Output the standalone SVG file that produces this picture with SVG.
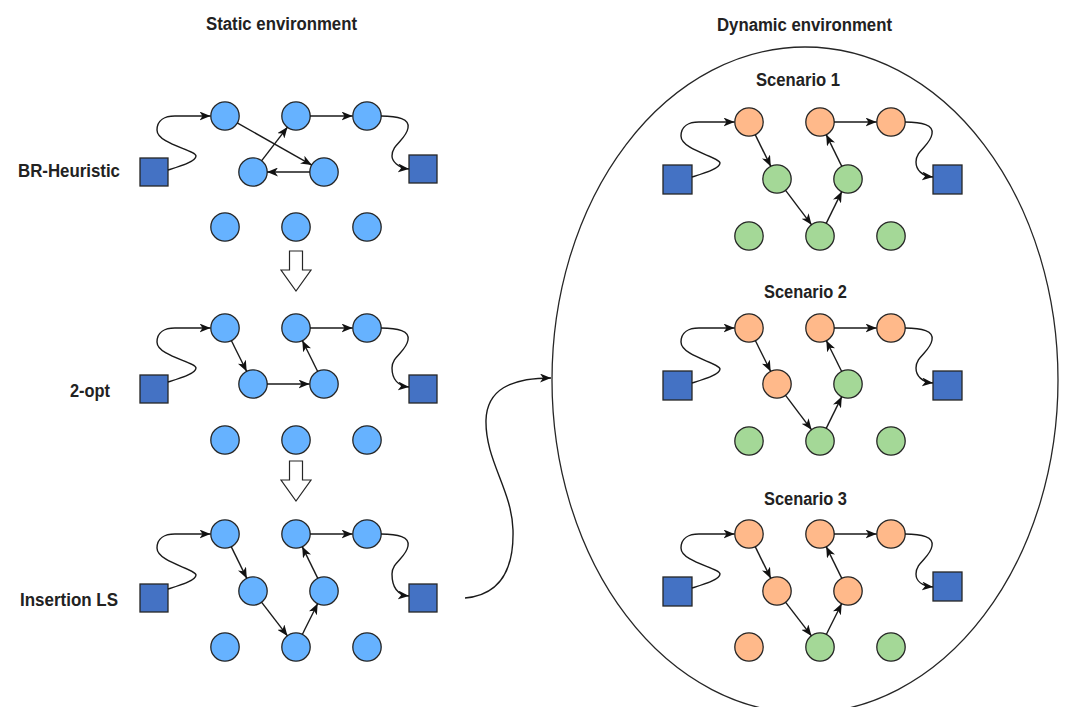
<svg xmlns="http://www.w3.org/2000/svg" width="1065" height="707" viewBox="0 0 1065 707">
<defs>
<style>
.c{stroke:#262626;stroke-width:1.3}
.blue{fill:#66B2FF}
.or{fill:#FFB98A}
.gr{fill:#A4D897}
.sq{fill:#4472C4;stroke:#262626;stroke-width:1.3}
.e{fill:none;stroke:#1a1a1a;stroke-width:1.4;marker-end:url(#ah)}
.lbl{font-family:"Liberation Sans",Arial,Helvetica,sans-serif;font-size:18px;font-weight:bold;fill:#222222}
.blk{fill:#ffffff;stroke:#262626;stroke-width:1.2}
</style>
<marker id="ah" markerUnits="userSpaceOnUse" markerWidth="11" markerHeight="9" refX="11" refY="4.5" orient="auto">
<path d="M0,0 L11,4.5 L0,9 L3,4.5 z" fill="#111"/>
</marker>
</defs>
<rect width="1065" height="707" fill="#ffffff"/>

<g id="labels">
<text class="lbl" x="206" y="30" textLength="151" lengthAdjust="spacingAndGlyphs">Static environment</text>
<text class="lbl" x="717" y="31" textLength="175" lengthAdjust="spacingAndGlyphs">Dynamic environment</text>
<text class="lbl" x="18" y="177" textLength="102" lengthAdjust="spacingAndGlyphs">BR-Heuristic</text>
<text class="lbl" x="70" y="397" textLength="40" lengthAdjust="spacingAndGlyphs">2-opt</text>
<text class="lbl" x="20" y="606" textLength="98" lengthAdjust="spacingAndGlyphs">Insertion LS</text>
<text class="lbl" x="756" y="86" textLength="84" lengthAdjust="spacingAndGlyphs">Scenario 1</text>
<text class="lbl" x="764" y="298" textLength="83" lengthAdjust="spacingAndGlyphs">Scenario 2</text>
<text class="lbl" x="764" y="505" textLength="83" lengthAdjust="spacingAndGlyphs">Scenario 3</text>
</g>

<g id="dynamic-container"><ellipse cx="805" cy="380" rx="253" ry="333" fill="none" stroke="#262626" stroke-width="1.3"/></g>

<g id="step-arrow-1"><polygon class="blk" points="289.5,251 302.5,251 302.5,270 311,270 296,291 281,270 289.5,270"/></g>
<g id="step-arrow-2"><polygon class="blk" points="289.5,461 302.5,461 302.5,480 311,480 296,501 281,480 289.5,480"/></g>

<!-- Static panel 1 -->
<g id="s1-start"><rect class="sq" x="140" y="158" width="28" height="28"/></g>
<g id="s1-end"><rect class="sq" x="409" y="155" width="28" height="28"/></g>
<g id="s1-a1"><circle class="c blue" cx="225" cy="116" r="14.2"/></g>
<g id="s1-a2"><circle class="c blue" cx="296" cy="116" r="14.2"/></g>
<g id="s1-a3"><circle class="c blue" cx="367" cy="116" r="14.2"/></g>
<g id="s1-b1"><circle class="c blue" cx="253" cy="172" r="14.2"/></g>
<g id="s1-b2"><circle class="c blue" cx="324" cy="172" r="14.2"/></g>
<g id="s1-c1"><circle class="c blue" cx="225" cy="227" r="14.2"/></g>
<g id="s1-c2"><circle class="c blue" cx="296" cy="227" r="14.2"/></g>
<g id="s1-c3"><circle class="c blue" cx="367" cy="227" r="14.2"/></g>

<!-- Static panel 2 -->
<g id="s2-start"><rect class="sq" x="140" y="375" width="28" height="28"/></g>
<g id="s2-end"><rect class="sq" x="409" y="375" width="28" height="28"/></g>
<g id="s2-a1"><circle class="c blue" cx="225" cy="328" r="14.2"/></g>
<g id="s2-a2"><circle class="c blue" cx="296" cy="328" r="14.2"/></g>
<g id="s2-a3"><circle class="c blue" cx="367" cy="328" r="14.2"/></g>
<g id="s2-b1"><circle class="c blue" cx="253" cy="384" r="14.2"/></g>
<g id="s2-b2"><circle class="c blue" cx="324" cy="384" r="14.2"/></g>
<g id="s2-c1"><circle class="c blue" cx="225" cy="440" r="14.2"/></g>
<g id="s2-c2"><circle class="c blue" cx="296" cy="440" r="14.2"/></g>
<g id="s2-c3"><circle class="c blue" cx="367" cy="440" r="14.2"/></g>

<!-- Static panel 3 -->
<g id="s3-start"><rect class="sq" x="140" y="584" width="28" height="28"/></g>
<g id="s3-end"><rect class="sq" x="409" y="584" width="28" height="28"/></g>
<g id="s3-a1"><circle class="c blue" cx="225" cy="534" r="14.2"/></g>
<g id="s3-a2"><circle class="c blue" cx="296" cy="534" r="14.2"/></g>
<g id="s3-a3"><circle class="c blue" cx="367" cy="534" r="14.2"/></g>
<g id="s3-b1"><circle class="c blue" cx="253" cy="591" r="14.2"/></g>
<g id="s3-b2"><circle class="c blue" cx="324" cy="591" r="14.2"/></g>
<g id="s3-c1"><circle class="c blue" cx="225" cy="647" r="14.2"/></g>
<g id="s3-c2"><circle class="c blue" cx="296" cy="647" r="14.2"/></g>
<g id="s3-c3"><circle class="c blue" cx="367" cy="647" r="14.2"/></g>

<!-- Scenario 1 -->
<g id="d1-start"><rect class="sq" x="663" y="165" width="29" height="29"/></g>
<g id="d1-end"><rect class="sq" x="933" y="165" width="29" height="29"/></g>
<g id="d1-a1"><circle class="c or" cx="749" cy="122" r="14.2"/></g>
<g id="d1-a2"><circle class="c or" cx="820" cy="122" r="14.2"/></g>
<g id="d1-a3"><circle class="c or" cx="891" cy="122" r="14.2"/></g>
<g id="d1-b1"><circle class="c gr" cx="777" cy="179" r="14.2"/></g>
<g id="d1-b2"><circle class="c gr" cx="848" cy="179" r="14.2"/></g>
<g id="d1-c1"><circle class="c gr" cx="749" cy="236" r="14.2"/></g>
<g id="d1-c2"><circle class="c gr" cx="820" cy="236" r="14.2"/></g>
<g id="d1-c3"><circle class="c gr" cx="891" cy="236" r="14.2"/></g>

<!-- Scenario 2 -->
<g id="d2-start"><rect class="sq" x="663" y="371" width="29" height="29"/></g>
<g id="d2-end"><rect class="sq" x="933" y="371" width="29" height="29"/></g>
<g id="d2-a1"><circle class="c or" cx="749" cy="328" r="14.2"/></g>
<g id="d2-a2"><circle class="c or" cx="820" cy="328" r="14.2"/></g>
<g id="d2-a3"><circle class="c or" cx="891" cy="328" r="14.2"/></g>
<g id="d2-b1"><circle class="c or" cx="777" cy="384" r="14.2"/></g>
<g id="d2-b2"><circle class="c gr" cx="848" cy="384" r="14.2"/></g>
<g id="d2-c1"><circle class="c gr" cx="749" cy="441" r="14.2"/></g>
<g id="d2-c2"><circle class="c gr" cx="820" cy="441" r="14.2"/></g>
<g id="d2-c3"><circle class="c gr" cx="891" cy="441" r="14.2"/></g>

<!-- Scenario 3 -->
<g id="d3-start"><rect class="sq" x="663" y="577" width="29" height="29"/></g>
<g id="d3-end"><rect class="sq" x="933" y="572" width="29" height="29"/></g>
<g id="d3-a1"><circle class="c or" cx="749" cy="534" r="14.2"/></g>
<g id="d3-a2"><circle class="c or" cx="820" cy="534" r="14.2"/></g>
<g id="d3-a3"><circle class="c or" cx="891" cy="534" r="14.2"/></g>
<g id="d3-b1"><circle class="c or" cx="777" cy="591" r="14.2"/></g>
<g id="d3-b2"><circle class="c or" cx="848" cy="591" r="14.2"/></g>
<g id="d3-c1"><circle class="c or" cx="749" cy="647" r="14.2"/></g>
<g id="d3-c2"><circle class="c gr" cx="820" cy="647" r="14.2"/></g>
<g id="d3-c3"><circle class="c gr" cx="891" cy="647" r="14.2"/></g>

<g id="connectors">
<!-- static panel 1 -->
<path class="e" d="M168,170 C178,167 196,162 196,156 C196,150 157,144 157,130 C157,120 165,116 175,116 L210.5,116"/>
<line class="e" x1="237.2" y1="122.9" x2="311.8" y2="165.1"/>
<line class="e" x1="310" y1="172" x2="267" y2="172"/>
<line class="e" x1="261.5" y1="160.9" x2="287.5" y2="127.1"/>
<line class="e" x1="310" y1="116" x2="352.5" y2="116"/>
<path class="e" d="M381,116 C398,116 410,119 408,128 C406,140 392,144 392,156 C392,161 398,168 409,169"/>
<!-- static panel 2 -->
<path class="e" d="M168,382 C178,379 196,374 196,368 C196,362 157,356 157,342 C157,332 165,328 175,328 L210.5,328"/>
<line class="e" x1="231.3" y1="340.5" x2="246.7" y2="371.5"/>
<line class="e" x1="267" y1="384" x2="309.5" y2="384"/>
<line class="e" x1="317.7" y1="371.5" x2="302.3" y2="340.5"/>
<line class="e" x1="310" y1="328" x2="352.5" y2="328"/>
<path class="e" d="M381,328 C398,328 410,331 408,340 C406,352 392,356 392,368 C392,379 398,386 409,387"/>
<!-- static panel 3 -->
<path class="e" d="M168,589 C178,586 196,581 196,575 C196,569 157,562 157,548 C157,538 165,534 175,534 L210.5,534"/>
<line class="e" x1="231.2" y1="546.6" x2="246.8" y2="578.4"/>
<line class="e" x1="261.5" y1="602.1" x2="287.5" y2="635.9"/>
<line class="e" x1="302.3" y1="634.5" x2="317.7" y2="603.5"/>
<line class="e" x1="317.8" y1="578.4" x2="302.2" y2="546.6"/>
<line class="e" x1="310" y1="534" x2="352.5" y2="534"/>
<path class="e" d="M381,534 C398,534 410,537 408,546 C406,558 392,562 392,574 C392,588 398,595 409,596"/>
<!-- static to dynamic -->
<path class="e" d="M465,598 C500,595 514,570 513,530 C512,490 485,460 486,420 C487,390 510,378 551,378"/>
<!-- scenario 1 -->
<path class="e" d="M692,177 C702,174 720,169 720,163 C720,157 681,150 681,136 C681,126 689,122 699,122 L734.5,122"/>
<line class="e" x1="755.2" y1="134.6" x2="770.8" y2="166.4"/>
<line class="e" x1="785.4" y1="190.2" x2="811.6" y2="224.8"/>
<line class="e" x1="826.2" y1="223.4" x2="841.8" y2="191.6"/>
<line class="e" x1="841.8" y1="166.4" x2="826.2" y2="134.6"/>
<line class="e" x1="834" y1="122" x2="876.5" y2="122"/>
<path class="e" d="M905,122 C922,122 934,125 932,134 C930,146 916,150 916,162 C916,170 922,176 933,177"/>
<!-- scenario 2 -->
<path class="e" d="M692,383 C702,380 720,375 720,369 C720,363 681,356 681,342 C681,332 689,328 699,328 L734.5,328"/>
<line class="e" x1="755.3" y1="340.5" x2="770.7" y2="371.5"/>
<line class="e" x1="785.4" y1="395.2" x2="811.6" y2="429.8"/>
<line class="e" x1="826.2" y1="428.4" x2="841.8" y2="396.6"/>
<line class="e" x1="841.7" y1="371.5" x2="826.3" y2="340.5"/>
<line class="e" x1="834" y1="328" x2="876.5" y2="328"/>
<path class="e" d="M905,328 C922,328 934,331 932,340 C930,352 916,356 916,368 C916,376 922,382 933,383"/>
<!-- scenario 3 -->
<path class="e" d="M692,588 C702,585 720,580 720,574 C720,568 681,562 681,548 C681,538 689,534 699,534 L734.5,534"/>
<line class="e" x1="755.2" y1="546.6" x2="770.8" y2="578.4"/>
<line class="e" x1="785.5" y1="602.1" x2="811.5" y2="635.9"/>
<line class="e" x1="826.3" y1="634.5" x2="841.7" y2="603.5"/>
<line class="e" x1="841.8" y1="578.4" x2="826.2" y2="546.6"/>
<line class="e" x1="834" y1="534" x2="876.5" y2="534"/>
<path class="e" d="M905,534 C922,534 934,537 932,546 C930,558 916,562 916,574 C916,581 922,586 933,587"/>
</g>
</svg>
